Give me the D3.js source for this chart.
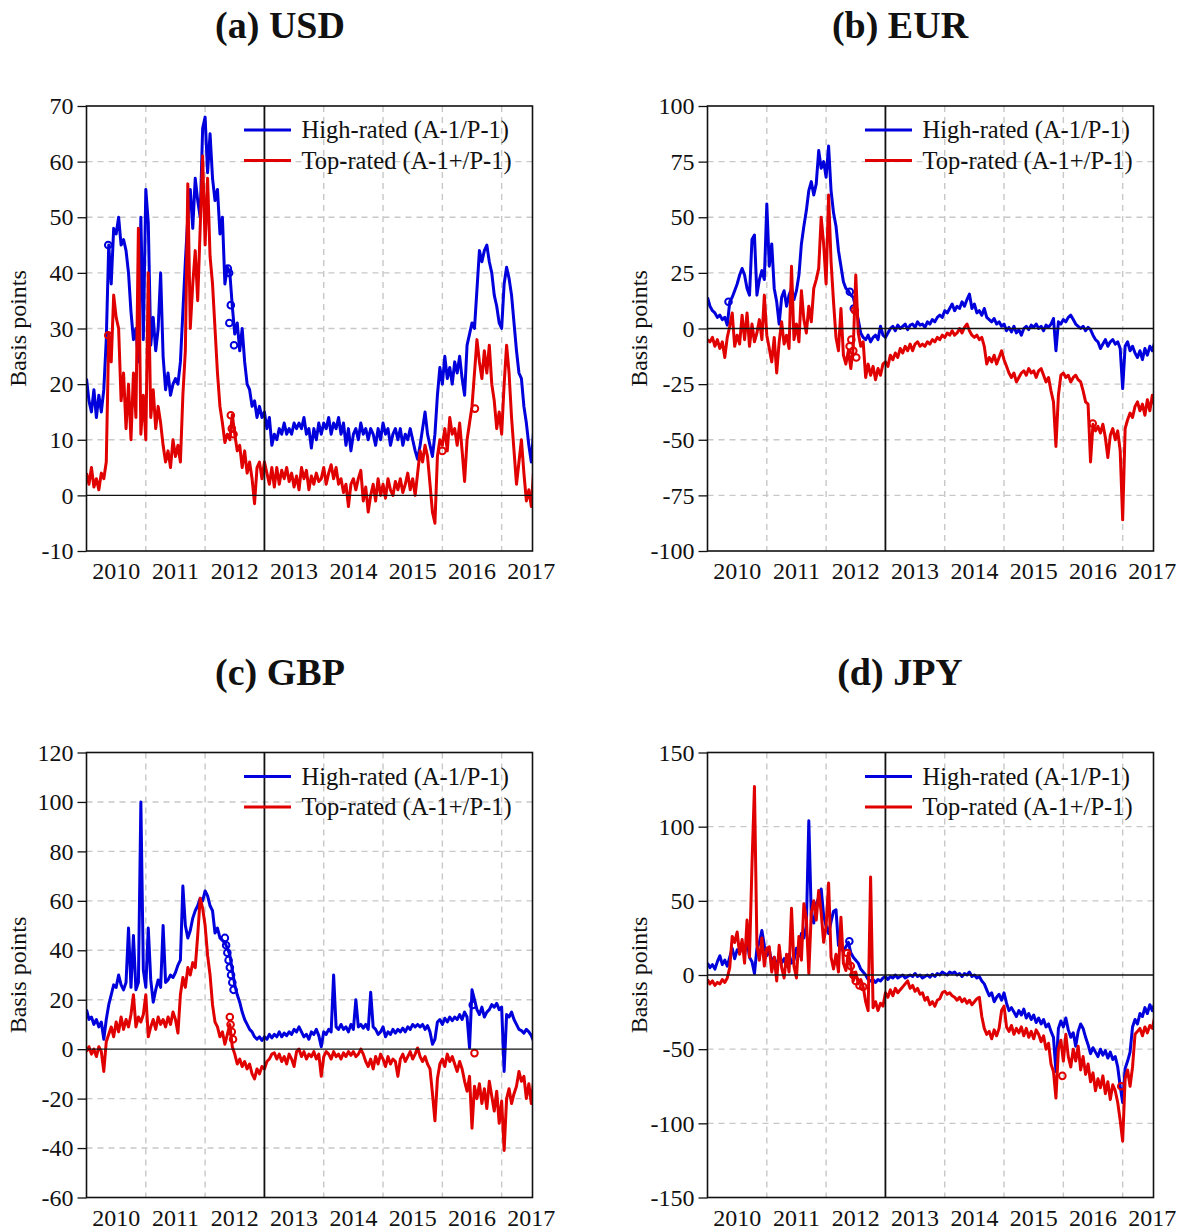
<!DOCTYPE html>
<html>
<head>
<meta charset="utf-8">
<script src="https://cdn.jsdelivr.net/npm/d3@7"></script>
<style>
  body { margin: 0; background: #fff; }
  svg text { font-family: "Liberation Serif", "Times New Roman", serif; fill: #111; }
</style>
</head>
<body>
<svg id="chart" width="1180" height="1232"></svg>
<script>
// Half-monthly observations starting January 2010 (index i -> 2010 + i/24)
const startYear = 2010;
const obsPerYear = 24;
const yearLabels = [2010, 2011, 2012, 2013, 2014, 2015, 2016, 2017];
const seriesNames = ["High-rated (A-1/P-1)", "Top-rated (A-1+/P-1)"];

const usdTicks = [-10, 0, 10, 20, 30, 40, 50, 60, 70];
const eurTicks = [-100, -75, -50, -25, 0, 25, 50, 75, 100];
const gbpTicks = [-60, -40, -20, 0, 20, 40, 60, 80, 100, 120];
const jpyTicks = [-150, -100, -50, 0, 50, 100, 150];

// USD spreads, basis points
const usdHigh = [
  21,17,15,19,14,18,15,19,28,45,38,48,
  47,50,45,46,44,40,33,28,30,24,50,28,
  55,49,27,32,26,30,40,25,19,22,18,20,
  21,20,24,33,42,50,55,48,57,53,50,66,
  68,58,65,57,53,55,47,50,38,41,40,34,
  29,31,26,30,24,20,19,16,17,14,16,14,
  15,12,14,9,11,10,12,11,13,11,12,11,
  13,12,13,12,14,11,12,8.5,12,10,13,11,
  13,12,14,11,13,12,14,11,13,9,12,8,
  11,12,10,13,11,12,10,12,11,9,12,10,
  13,11,12,9,11,12,10,12,9,11,10,12,
  10,8,6.5,9,12,15,11,9,7,11,18,23,
  20,25,21,23,20,24,22,25,21,18,27,29,
  31,30,37,44,42,44,45,42,40,36,34,31,
  30,38,41,39,36,31,26,22,21,16,13,9,
  6,12
];
const usdTop = [
  4,2,5,1.5,3,1,4,3,6,29,24,36,
  32,30,17,22,12,20,10,22,14,48,11,18,
  10,40,14,19,12,16,13,9,6,8,5,10,
  7,9,6,18,26,56,30,38,44,35,48,61,
  45,57,43,38,30,22,16,13,9.5,11,10,14.5,
  11,8,9,5,8,4,6,3,-1.5,5,6,3,
  6,4,2,5,1.5,5,2,4.5,3,5,2.5,4,
  1.5,3.5,1,5,3,4.5,1,3.5,2,4,2.5,3,
  5,2,4,5.5,3,5,2,3,0.5,2,-2,2,
  3,1,3,4.5,-1,1.5,-3,0,2,-1,3,0,
  2,-0.5,3,1,0,2.5,1,3,0.5,2,4,1,
  3,0,4,8,6,9,7,2,-3,-5,7,10,
  9,12,8,14,11,12,9,13,8,2.5,10,13,
  16,22,28,24,21,26,22,27,20,17,12,15,
  11,20,27,22,14,8,2,6,10,4,-1,1,
  -2,5
];

// EUR spreads, basis points
const eurHigh = [
  14,10,8,7,5,6,4,5,1.5,12,14,17,
  20,24,27,24,18,15,40,42,15,22,26,22,
  56,28,38,18,12,2,14,17,10,15,18,13,
  17,24,38,46,53,62,66,60,65,80,72,75,
  68,82,62,52,46,35,28,21,18,17,15,14,
  9,4,-2,-4,-5,-3,-6,-4,-3,-5,1,-3,
  -4,-2,0,1,-1,1.5,0,1,2,-0.5,1.5,2,
  0.5,3,1.5,2,0.5,3,2,4,3,5,6,5,
  8,7,9,11,8,10,9,12,10,13,15.5,9,
  11,7,8,6,9,5,4,3,4.5,2,3,1,
  2,-1,0.5,-1.5,1,-2,-0.5,-3,0,1,-0.5,1.5,
  0.5,2,0,1,-1,1.5,0.5,2,4.5,-10,3,2,
  4,3,5,6,4,2,1,0,1,-1,0.5,-0.5,
  -3,-5,-6,-9,-7,-5,-8,-6,-5,-7,-6,-9,
  -27,-8,-6,-10,-8,-11,-13,-10,-14,-9,-12,-8,
  -10,-6
];
const eurTop = [
  -5,-6,-4,-8,-5,-9,-6,-13,-4,1,7,-8,
  -3,-7,6,-5,7,-8,2,-6,-2,4,-5,15,
  -3,-9,-15,-4,-20,-6,3,-7,-3,-9,28,-5,
  2,-6,17,4,-2,10,3,18,22,27,50,38,
  20,60,30,12,-4,-10,9,-12,-16,-10,-18,-8,
  24,-2,-8,-6,-22,-16,-21,-17,-23,-18,-21,-16,
  -15,-17,-12,-14,-11,-13,-9,-11,-8,-10,-7,-10,
  -7,-6,-8,-7,-8,-6,-7,-5,-6,-4,-5,-3,
  -4,-2,-3,-1,-3,-2,0,-2,0.5,2,-1,-3,
  -4,-3,-5,-4,-8,-16,-13,-15,-12,-16,-13,-10,
  -14,-17,-20,-22,-20,-24,-22,-20,-19,-21,-18,-20,
  -19,-22,-19,-18,-21,-24,-22,-28,-33,-53,-30,-21,
  -20,-22,-21,-24,-22,-21,-23,-24,-28,-33,-34,-60,
  -43,-46,-44,-47,-43,-49,-58,-48,-45,-50,-46,-55,
  -86,-45,-41,-38,-40,-35,-33,-37,-34,-39,-32,-37,
  -30,-35
];

// GBP spreads, basis points
const gbpHigh = [
  16,12,13,10,12,9,11,4,12,18,22,26,
  25,30,26,24,27,49,25,46,24,27,100,32,
  25,49,28,19,24,28,25,50,27,28,30,29,
  31,34,36,66,50,45,48,53,56,58,61,60,
  64,62,58,56,47,49,45,44,43,41,38,32,
  26,22,19,15,12,10,8,7,5,4,5,3.5,
  5,4,6,4.5,6,5,7,5,6.5,5.5,7,6,
  8,7,9,7,5,6,4,7,6,8,5.5,1,
  7,6,8,7,30,9,8,10,8,9,7,10,
  8,20,9,10,8.5,10,8,23,9,8,6,7,
  9,5,7,6,8,6.5,8,7,8.5,7,9,8,
  10,9,10,9,10,8,9.5,7,2,4,11,12,
  10,12.5,11,13,11.5,13,12,14,12,15,13,0.5,
  24,20,16,14,17,13,15,16,18,17,18.5,16,
  17,-9,14,13,15,12,10,8,7.5,6.5,8,7,
  5.5,3
];
const gbpTop = [
  -1,1,-2,0,-3,1,-1,-9,3,6,9,5,
  11,7,13,8,12,9,14,22,9,13,11,14,
  22,5,9,12,8,13,10,12,9,13,10,15,
  12,6.5,22,29,25,33,30,35,33,46,61,57,
  50,38,30,18,11,9,5,7,2,6,10,1,
  -2,-6,-4,-7,-5,-8,-6,-10,-12,-8,-10,-7,
  -8,-5,-4,-2,-1.5,-4,-2,-5,-3,-6,-2,-4,
  -7,-1,0,-3,-1,-4,-2,-3,-1,-4,-2,-11,
  -3,-1,-2,-4,-1,-3,-2,-4,-1.5,-3,-1,-2.5,
  -1,-3,-2,0,-2,-5,-7,-4,-8,-3,-6,-2,
  -4,-7,-3,-6,-4,-5,-11,-4,-2,-5,-3,-1,
  -4,-2,0.5,-3,-5,-3,-6,-8,-18,-29,-12,-6,
  -4,-7,-2,-5,-3,-6,-9,-5,-8,-13,-17,-11,
  -32,-15,-20,-14,-22,-16,-24,-13,-19,-25,-17,-30,
  -21,-41,-20,-16,-22,-18,-15,-9,-13,-11,-20,-14,
  -22,-12
];

// JPY spreads, basis points
const jpyHigh = [
  8,5,7,4,9,13,7,10,6,12,18,11,
  17,15,20,14,24,12,9,1,18,22,30,20,
  13,17,8,12,5,13,8,11,6,14,8,10,
  18,13,28,25,33,104,40,35,48,52,58,40,
  33,28,36,43,44,20,18,16,19,22,15,12,
  10,8,4,2,0,-3,-4,-3,-5,-3,-4,-2,
  -1,-3,-1,-2,0,-2,-1,0,-2,-1,0,-1,
  1,-1,0,-2,-1,0,-1.5,0.5,-1,1,0,2,
  1,0,2,1,2,0,1,-1,1,0,2,-1,
  0,-2,-1,-4,-6,-10,-14,-12,-18,-15,-13,-17,
  -12,-19,-24,-22,-25,-28,-24,-27,-23,-29,-26,-30,
  -27,-32,-29,-33,-30,-35,-33,-38,-42,-65,-36,-31,
  -35,-29,-37,-42,-39,-48,-38,-33,-36,-42,-47,-53,
  -49,-52,-55,-50,-54,-51,-56,-52,-57,-55,-62,-75,
  -86,-63,-58,-52,-35,-30,-33,-26,-28,-22,-26,-20,
  -24,-19
];
const jpyTop = [
  -3,-6,-4,-7,-5,-6,-3,-5,-2,5,26,22,
  29,14,24,8,37,12,74,127,20,10,25,6,
  18,19,2,12,-4,20,5,-2,14,2,45,6,
  -2,26,10,48,38,1,42,50,37,57,42,22,
  33,62,12,4,14,2,39,8,3,15,6,-4,
  2,-6,-3,-8,-18,-24,66,-22,-18,-24,-19,-21,
  -12,-15,-10,-14,-9,-12,-10,-8,-6,-4,-9,-7,
  -11,-9,-13,-12,-17,-15,-20,-18,-21,-17,-16,-12,
  -11,-13,-12,-14,-15,-17,-15,-18,-16,-19,-17,-20,
  -18,-16,-15,-28,-36,-40,-38,-43,-37,-41,-36,-24,
  -21,-35,-38,-34,-40,-36,-39,-35,-41,-36,-42,-38,
  -43,-37,-40,-45,-41,-50,-46,-60,-65,-83,-50,-44,
  -58,-40,-55,-62,-50,-58,-48,-64,-55,-67,-60,-72,
  -66,-78,-70,-76,-68,-80,-72,-84,-74,-78,-86,-98,
  -112,-70,-64,-75,-62,-40,-38,-36,-41,-35,-39,-34,
  -36,-28
];

// Isolated observations, drawn as open circles: [observation index, value]
const usdHighMarks = [[8.8,45],[57.2,40.8],[57.7,40],[57.8,31],[58.4,34.2],[59.7,27]];
const usdTopMarks  = [[8.8,28.8],[58.4,14.4],[58.8,12],[59.5,11],[144,8],[157.2,15.6]];
const eurHighMarks = [[8.5,12],[57.6,16.5],[59.2,9]];
const eurTopMarks  = [[57.5,-8],[58.2,-5],[59,-10],[59.6,8.2],[60.2,-13],[155.9,-42.7]];
const gbpHighMarks = [[56,45],[56.5,42],[57,39],[57.5,36],[58,33],[58.5,30],[59,27],[59.5,24],[156.3,17.9]];
const gbpTopMarks  = [[58,13],[58.3,10],[58.8,7],[59.3,4],[157,-1.6]];
const jpyHighMarks = [[57.4,22.7]];
const jpyTopMarks  = [[56.5,14.8],[58,6],[59,0],[60,-4],[61.5,-7],[63,-8],[143.6,-68],[167.4,-75]];

const panels = [
  { title: "(a) USD", ticks: usdTicks, high: usdHigh, top: usdTop, highMarks: usdHighMarks, topMarks: usdTopMarks },
  { title: "(b) EUR", ticks: eurTicks, high: eurHigh, top: eurTop, highMarks: eurHighMarks, topMarks: eurTopMarks },
  { title: "(c) GBP", ticks: gbpTicks, high: gbpHigh, top: gbpTop, highMarks: gbpHighMarks, topMarks: gbpTopMarks },
  { title: "(d) JPY", ticks: jpyTicks, high: jpyHigh, top: jpyTop, highMarks: jpyHighMarks, topMarks: jpyTopMarks }
];

// ---- layout ----
const plotW = 446, plotH = 445;
const colLeft = [86.5, 707.5];
const rowTop = [106, 752.5];
const colCenter = [280, 900];
const blue = "#0000dc", red = "#e00000";
const endYear = 2017.52;

const svg = d3.select("#chart");
const defs = svg.append("defs");

panels.forEach((p, k) => {
  const col = k % 2, row = Math.floor(k / 2);
  const left = colLeft[col], top = rowTop[row];
  const g = svg.append("g");

  const x = d3.scaleLinear().domain([startYear, endYear]).range([left, left + plotW]);
  const y = d3.scaleLinear().domain(d3.extent(p.ticks)).range([top + plotH, top]);
  const tx = i => x(startYear + i / obsPerYear);

  const clipId = "clip" + k;
  defs.append("clipPath").attr("id", clipId)
    .append("rect").attr("x", left).attr("y", top).attr("width", plotW).attr("height", plotH);

  // title
  g.append("text")
    .attr("x", colCenter[col]).attr("y", row === 0 ? 38 : 684.5)
    .attr("text-anchor", "middle")
    .style("font-size", "38px").style("font-weight", "bold")
    .text(p.title);

  // y axis label
  g.append("text")
    .attr("transform", `translate(${left - 61},${top + plotH / 2}) rotate(-90)`)
    .attr("text-anchor", "middle")
    .style("font-size", "24px")
    .text("Basis points");

  // horizontal grid
  const inner = p.ticks.filter(t => t !== 0 && t !== y.domain()[0] && t !== y.domain()[1]);
  g.append("g").selectAll("line").data(inner).join("line")
    .attr("x1", left).attr("x2", left + plotW)
    .attr("y1", d => y(d)).attr("y2", d => y(d))
    .attr("stroke", "#c8c8c8").attr("stroke-width", 1.4).attr("stroke-dasharray", "6,5");

  // vertical grid at year boundaries (2013 is drawn as a solid line later)
  const gridYears = yearLabels.filter(yr => yr > startYear && yr !== 2013);
  g.append("g").selectAll("line").data(gridYears).join("line")
    .attr("x1", d => x(d)).attr("x2", d => x(d))
    .attr("y1", top).attr("y2", top + plotH)
    .attr("stroke", "#c8c8c8").attr("stroke-width", 1.4).attr("stroke-dasharray", "6,5");

  // y axis ticks and labels
  const yAxis = d3.axisLeft(y).tickValues(p.ticks).tickSize(9).tickPadding(4).tickFormat(d => String(d));
  const ay = g.append("g").attr("transform", `translate(${left},0)`).call(yAxis);
  ay.select(".domain").remove();
  ay.selectAll("line").attr("stroke", "#111").attr("stroke-width", 1.3);
  ay.selectAll("text").style("font-size", "24px")
    .style("font-family", '"Liberation Serif", "Times New Roman", serif').attr("fill", "#111");

  // x labels centred in each year
  g.append("g").selectAll("text").data(yearLabels).join("text")
    .attr("x", d => x(d + 0.5)).attr("y", top + plotH + 28)
    .attr("text-anchor", "middle").style("font-size", "24px")
    .text(d => d);

  // series
  const line = d3.line()
    .defined(d => d != null)
    .x((d, i) => tx(i))
    .y(d => y(d));
  const plot = g.append("g").attr("clip-path", `url(#${clipId})`);
  [[p.high, p.highMarks, blue], [p.top, p.topMarks, red]].forEach(([vals, marks, color]) => {
    plot.append("path").datum(vals)
      .attr("d", line)
      .attr("fill", "none").attr("stroke", color)
      .attr("stroke-width", 3).attr("stroke-linejoin", "round");
    plot.append("g").selectAll("circle").data(marks).join("circle")
      .attr("cx", d => tx(d[0])).attr("cy", d => y(d[1])).attr("r", 3.3)
      .attr("fill", "none").attr("stroke", color).attr("stroke-width", 2);
  });

  // zero line and 2013 marker
  g.append("line")
    .attr("x1", left).attr("x2", left + plotW).attr("y1", y(0)).attr("y2", y(0))
    .attr("stroke", "#111").attr("stroke-width", 1.4);
  g.append("line")
    .attr("x1", x(2013)).attr("x2", x(2013)).attr("y1", top).attr("y2", top + plotH)
    .attr("stroke", "#111").attr("stroke-width", 1.8);

  // frame
  g.append("rect")
    .attr("x", left).attr("y", top).attr("width", plotW).attr("height", plotH)
    .attr("fill", "none").attr("stroke", "#111").attr("stroke-width", 1.6);

  // legend
  const lx = left + 157.5;
  seriesNames.forEach((name, j) => {
    const ly = top + 24 + j * 30.5;
    g.append("line")
      .attr("x1", lx).attr("x2", lx + 47).attr("y1", ly).attr("y2", ly)
      .attr("stroke", j === 0 ? blue : red).attr("stroke-width", 3);
    g.append("text")
      .attr("x", lx + 57.5).attr("y", ly + 8)
      .style("font-size", "24.5px")
      .text(name);
  });
});
</script>
</body>
</html>
